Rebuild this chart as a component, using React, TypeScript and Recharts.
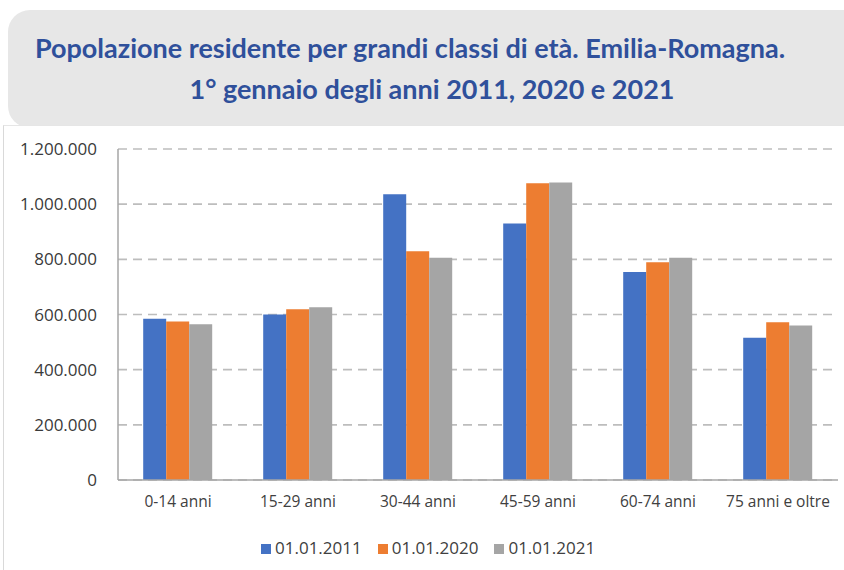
import { BarChart, Bar, XAxis, YAxis, CartesianGrid, Legend } from 'recharts'

const CATEGORIES = ['0-14 anni', '15-29 anni', '30-44 anni', '45-59 anni', '60-74 anni', '75 anni e oltre']
const POP_2011 = [585000, 600000, 1036000, 930000, 754000, 516000]
const POP_2020 = [575000, 619000, 829000, 1076000, 789000, 572000]
const POP_2021 = [565000, 626000, 806000, 1079000, 806000, 560000]
const Y_TICKS = [0, 200000, 400000, 600000, 800000, 1000000, 1200000]

const SERIES = [
  { key: 'y2011', name: '01.01.2011', color: '#4472c4' },
  { key: 'y2020', name: '01.01.2020', color: '#ed7d31' },
  { key: 'y2021', name: '01.01.2021', color: '#a5a5a5' },
]

const data = CATEGORIES.map((label, i) => ({
  label,
  y2011: POP_2011[i],
  y2020: POP_2020[i],
  y2021: POP_2021[i],
}))

const fmt = (v: number) => String(v).replace(/\B(?=(\d{3})+(?!\d))/g, '.')

const FONT = '"Open Sans", sans-serif'
const TITLE_STYLE = {
  position: 'absolute' as const, textAlign: 'center' as const, whiteSpace: 'nowrap' as const,
  color: '#2f509b', fontFamily: 'Lato, sans-serif', fontWeight: 700, fontSize: 27, lineHeight: '41px',
}

export default function App() {
  return (
    <div style={{ position: 'absolute', left: 0, top: 0, width: 844, height: 570, background: '#fff', fontFamily: FONT, overflow: 'hidden' }}>
      <div
        style={{
          position: 'absolute', left: 8, top: 10, width: 860, height: 118,
          background: '#e7e7e7', borderRadius: 22,
        }}
      />
      <div style={{ ...TITLE_STYLE, left: 10, top: 27, width: 800 }}>
        Popolazione residente per grandi classi di età. Emilia-Romagna.
      </div>
      <div style={{ ...TITLE_STYLE, left: 32, top: 68, width: 800 }}>
        1° gennaio degli anni 2011, 2020 e 2021
      </div>
      <div
        style={{
          position: 'absolute', left: 3, top: 125, width: 850, height: 450,
          background: '#fff', borderLeft: '1px solid #d9d9d9', borderTop: '1px solid #e6e6e6',
        }}
      />
      <div style={{ position: 'absolute', left: 0, top: 125 }}>
        <BarChart
          width={844}
          height={445}
          data={data}
          margin={{ top: 24, right: 6, left: 0, bottom: 0 }}
          barCategoryGap="21%"
          barGap={0}
        >
          <CartesianGrid vertical={false} stroke="#bdbdbd" strokeDasharray="9 6" strokeWidth={1.6} />
          <XAxis
            dataKey="label"
            height={40}
            tick={{ fontSize: 15.5, fill: '#404040', fontFamily: FONT }}
            tickLine={false}
            axisLine={{ stroke: '#a6a6a6', strokeWidth: 1.5 }}
            tickMargin={10}
            interval={0}
          />
          <YAxis
            width={118}
            domain={[0, 1200000]}
            ticks={Y_TICKS}
            tickFormatter={fmt}
            tick={{ fontSize: 17, fill: '#3a3a3a', fontFamily: FONT }}
            tickLine={false}
            axisLine={{ stroke: '#a6a6a6', strokeWidth: 1.5 }}
            tickMargin={15}
          />
          <Legend
            verticalAlign="bottom"
            align="left"
            height={50}
            iconType="square"
            iconSize={10}
            wrapperStyle={{ fontSize: 17, fontFamily: FONT, left: 261, bottom: -16, width: 420 }}
            formatter={(value: string) => <span style={{ color: '#404040', marginRight: 6 }}>{value}</span>}
          />
          {SERIES.map(s => (
            <Bar key={s.key} dataKey={s.key} name={s.name} fill={s.color} isAnimationActive={false} />
          ))}
        </BarChart>
      </div>
    </div>
  )
}
